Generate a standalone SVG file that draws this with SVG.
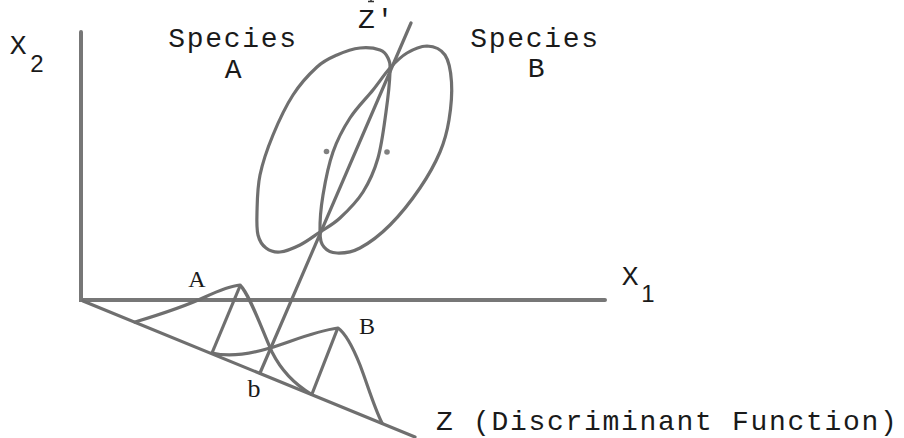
<svg xmlns="http://www.w3.org/2000/svg" width="904" height="438" viewBox="0 0 904 438">
<style>
.ln{fill:none;stroke:#6f6f6f;stroke-width:3.2;stroke-linecap:round;stroke-linejoin:round}
.ax{fill:none;stroke:#777777;stroke-width:4;stroke-linecap:round}
.mono{font-family:"Liberation Mono","DejaVu Sans Mono",monospace;font-size:28px;letter-spacing:1.7px;fill:#1a1a1a}
.serif{font-family:"Liberation Serif","DejaVu Serif",serif;fill:#1a1a1a}
.sub{font-family:"Liberation Sans","DejaVu Sans",sans-serif;font-size:24px;fill:#1a1a1a}
.dot{fill:#808080}
</style>
<rect width="904" height="438" fill="#ffffff"/>

<g id="axes">
<path class="ax" d="M81,32 L81,300 L605,300"/>
<path class="ln" d="M83,301 L415,437"/>
<text class="mono" x="19" y="54" text-anchor="middle">X</text>
<text class="sub" x="37" y="72" text-anchor="middle">2</text>
<text class="mono" x="631" y="285" text-anchor="middle">X</text>
<text class="sub" x="648" y="302" text-anchor="middle">1</text>
<text class="mono" x="436" y="430">Z (Discriminant Function)</text>
</g>

<g id="species-A">
<path class="ln" d="M360,48 C367.2,47.2 375.3,48.3 380,50 C384.7,51.7 386.3,54.3 388,58 C389.7,61.7 390.3,63 390,72 C389.7,81 388,97.7 386,112 C384,126.3 381.8,144.7 378,158 C374.2,171.3 369.3,182 363,192 C356.7,202 347.2,211.3 340,218 C332.8,224.7 326.7,227.5 320,232 C313.3,236.5 306.7,241.7 300,245 C293.3,248.3 285.7,251.5 280,252 C274.3,252.5 269.7,250.8 266,248 C262.3,245.2 259.5,241 258,235 C256.5,229 256.7,222 257,212 C257.3,202 257.3,187.8 260,175 C262.7,162.2 267.5,148.3 273,135 C278.5,121.7 285.7,106.3 293,95 C300.3,83.7 309.7,73.7 317,67 C324.3,60.3 329.8,58.2 337,55 C344.2,51.8 352.8,48.8 360,48 Z"/>
<circle class="dot" cx="326.5" cy="151.5" r="2.8"/>
<text class="mono" x="233" y="47" text-anchor="middle">Species</text>
<text class="mono" x="234" y="78" text-anchor="middle">A</text>
</g>

<g id="species-B">
<path class="ln" d="M427,46 C433.3,46.3 440.9,49 445,55 C449.1,61 450.8,71.2 451.5,82 C452.2,92.8 450.9,108.3 449,120 C447.1,131.7 444.8,140.7 440,152 C435.2,163.3 428.3,175.8 420,188 C411.7,200.2 400,215 390,225 C380,235 368.8,243.3 360,248 C351.2,252.7 343,253.2 337,253 C331,252.8 326.8,250.5 324,247 C321.2,243.5 320.2,240.7 320,232 C319.8,223.3 320.8,208.3 323,195 C325.2,181.7 328.5,164.8 333,152 C337.5,139.2 343.3,128.3 350,118 C356.7,107.7 366.3,98.3 373,90 C379.7,81.7 384.3,74.2 390,68 C395.7,61.8 400.8,56.7 407,53 C413.2,49.3 420.7,46.3 427,46 Z"/>
<circle class="dot" cx="387" cy="152" r="2.8"/>
<text class="mono" x="535" y="47" text-anchor="middle">Species</text>
<text class="mono" x="537" y="77" text-anchor="middle">B</text>
</g>

<g id="distribution-A">
<path class="ln" d="M135,322 C165,313 190,304 205,297 C218,291 230,286 240,285 C250,295 262,330 272,352 C282,372 296,385 311,394"/>
<text class="serif" x="197" y="286.5" font-size="24" text-anchor="middle">A</text>
</g>

<g id="distribution-B">
<path class="ln" d="M212,353 C228,357 250,354 270,348 C290,342 315,331 338,328 C345,333 352,345 360,365 C368,386 374,407 382,423"/>
<text class="serif" x="367" y="334" font-size="24" text-anchor="middle">B</text>
</g>

<g id="connectors">
<path class="ln" d="M411,23 L260,373"/>
<path class="ln" d="M240,286 L212,353"/>
<path class="ln" d="M337,330 L312,394"/>
<path d="M368,1.5 L374,1.5 M371,0 L371,1.5" stroke="#333" stroke-width="1.5" fill="none"/>
<text class="mono" x="358" y="28" font-size="25" letter-spacing="0.5">Z'</text>
<text class="serif" x="254" y="397" font-size="26" text-anchor="middle">b</text>
</g>
</svg>
